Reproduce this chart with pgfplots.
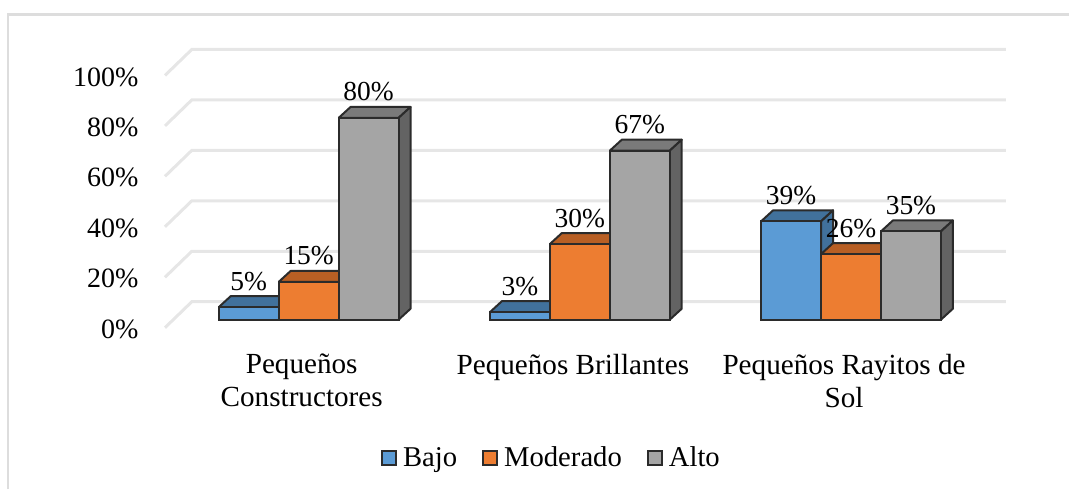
\documentclass[border=0pt]{standalone}
\usepackage{fontspec}
\setmainfont{Liberation Serif}
\usepackage{pgfplots}
\pgfplotsset{compat=1.18}

\definecolor{blueF}{HTML}{5B9BD5}
\definecolor{blueT}{HTML}{41719C}
\definecolor{orangeF}{HTML}{ED7D31}
\definecolor{orangeT}{HTML}{B85F24}
\definecolor{grayF}{HTML}{A5A5A5}
\definecolor{grayT}{HTML}{7A7A7A}
\definecolor{grayS}{HTML}{636363}
\definecolor{edge}{HTML}{2B2B2B}
\definecolor{gridc}{HTML}{E6E6E6}
\definecolor{framec}{HTML}{DDDDDD}

% top and side of one bar: x of centre, value, top colour, side colour
\newcommand{\faces}[4]{%
  \pgfmathsetmacro{\xl}{#1-0.1105}%
  \pgfmathsetmacro{\xr}{#1+0.1105}%
  \pgfmathsetmacro{\xlb}{\xl+0.0442}%
  \pgfmathsetmacro{\xrb}{\xr+0.0442}%
  \pgfmathsetmacro{\yb}{#2+4.36}%
  \edef\temp{\noexpand\addplot[forget plot,fill=#3,draw=edge,line width=2pt,line join=round]
    coordinates {(\xl,#2)(\xlb,\yb)(\xrb,\yb)(\xr,#2)(\xl,#2)};
    \noexpand\addplot[forget plot,fill=#4,draw=edge,line width=2pt,line join=round]
    coordinates {(\xr,0)(\xrb,4.36)(\xrb,\yb)(\xr,#2)(\xr,0)};}%
  \temp
}
% one gridline on the floor and back wall
\newcommand{\wall}[1]{%
  \pgfmathsetmacro{\yf}{#1-3.17}%
  \pgfmathsetmacro{\ybk}{#1+7.13}%
  \edef\temp{\noexpand\addplot[forget plot,draw=gridc,line width=3pt]
    coordinates {(-0.530,\yf)(-0.431,\ybk)(2.571,\ybk)};}%
  \temp
}

\pgfplotsset{
  frontbar/.style={ybar, bar width=60pt, bar shift=#1, draw=edge, line width=2pt,
    nodes near coords={\pgfmathprintnumber{\pgfplotspointmeta}\%},
    nodes near coords style={anchor=center, xshift=#1, yshift=26pt, font=\fontsize{27.5}{33}\selectfont}},
}

\begin{document}
\begin{tikzpicture}
\begin{axis}[
    scale only axis,
    width=1070pt, height=490pt,
    xmin=-1.138, xmax=2.803,
    ymin=-67.3, ymax=126.7,
    clip=false,
    axis line style={draw=none},
    major tick length=0pt,
    /pgf/number format/assume math mode=true,
    xtick={0,1,2},
    xticklabels={{Pequeños\\Constructores},{Pequeños Brillantes},{Pequeños Rayitos de\\Sol}},
    xticklabel style={align=center, anchor=north, yshift=139pt, xshift=-7pt, font=\fontsize{29.2}{33}\selectfont},
    ytick={0,20,40,60,80,100},
    yticklabel={\pgfmathprintnumber{\tick}\%},
    yticklabel style={anchor=east, xshift=142pt, yshift=-9.5pt, font=\fontsize{28}{33}\selectfont},
    legend columns=3,
    legend style={at={(552pt,32pt)}, anchor=center, draw=none, fill=none,
      font=\fontsize{28.7}{33}\selectfont,
      /tikz/every odd column/.append style={column sep=4pt},
      /tikz/every even column/.append style={column sep=23pt}},
    legend image code/.code={\draw[#1,line width=2pt,draw=edge] (0pt,-7pt) rectangle (14pt,7pt);},
]
\wall{0}\wall{20}\wall{40}\wall{60}\wall{80}\wall{100}

\faces{-0.221}{5}{blueT}{blueT}
\faces{0.779}{3}{blueT}{blueT}
\faces{1.779}{39}{blueT}{blueT}
\addplot[frontbar=-60pt, fill=blueF]
  coordinates {(0,5)(1,3)(2,39)};
\addlegendentry{Bajo}

\faces{0}{15}{orangeT}{orangeT}
\faces{1}{30}{orangeT}{orangeT}
\faces{2}{26}{orangeT}{orangeT}
\addplot[frontbar=0pt, fill=orangeF]
  coordinates {(0,15)(1,30)(2,26)};
\addlegendentry{Moderado}

\faces{0.221}{80}{grayT}{grayS}
\faces{1.221}{67}{grayT}{grayS}
\faces{2.221}{35}{grayT}{grayS}
\addplot[frontbar=60pt, fill=grayF]
  coordinates {(0,80)(1,67)(2,35)};
\addlegendentry{Alto}

\draw[framec, line width=2.5pt] (rel axis cs:0.0075,0) -- (rel axis cs:0.0075,0.971) -- (rel axis cs:1,0.971);
\end{axis}
\end{tikzpicture}
\end{document}
